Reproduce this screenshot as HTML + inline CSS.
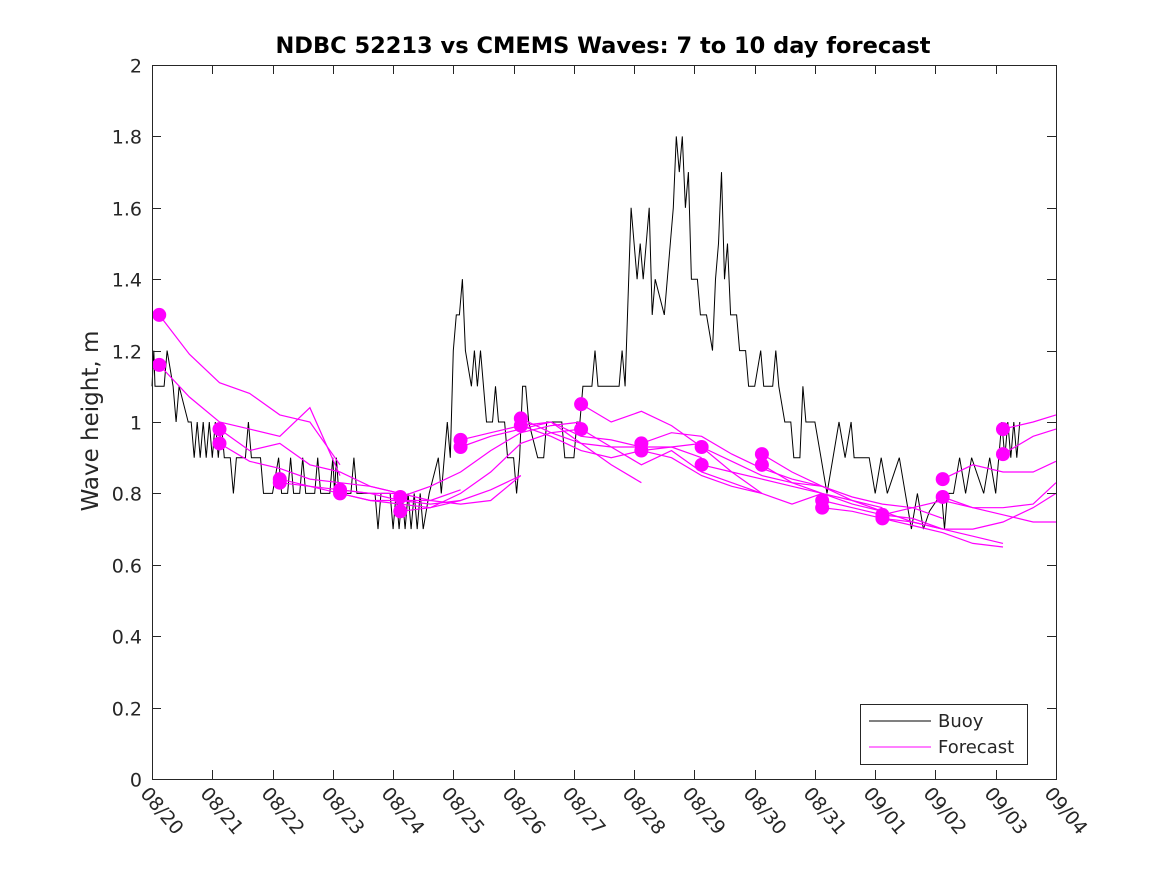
<!DOCTYPE html>
<html><head><meta charset="utf-8"><style>
body{margin:0;background:#fff}
svg text{font-family:"DejaVu Sans","Liberation Sans",sans-serif;fill:#262626}
</style></head><body>
<svg id="chart" width="1167" height="875" xmlns="http://www.w3.org/2000/svg">
<rect width="1167" height="875" fill="#fff"/>
<text x="603" y="53" text-anchor="middle" font-size="22.5" font-weight="bold" style="fill:#000">NDBC 52213 vs CMEMS Waves: 7 to 10 day forecast</text>
<text transform="translate(98,421) rotate(-90)" text-anchor="middle" font-size="23">Wave height, m</text>
<g id="marks"></g>
<g id="axes"></g>
<g>
<rect x="860.5" y="704.5" width="167" height="60" fill="#fff" stroke="#262626"/>
<line x1="869" y1="721" x2="931" y2="721" stroke="#000"/>
<text x="938" y="727" font-size="18">Buoy</text>
<line x1="869" y1="747" x2="931" y2="747" stroke="#ff00ff"/>
<text x="938" y="753" font-size="18">Forecast</text>
</g>
</svg>
<script>
const xTickLabels=["08/20","08/21","08/22","08/23","08/24","08/25","08/26","08/27","08/28","08/29","08/30","08/31","09/01","09/02","09/03","09/04"];
const yTicks=[0,0.2,0.4,0.6,0.8,1,1.2,1.4,1.6,1.8,2];
const buoyDays=[0,0.03,0.05,0.2,0.25,0.35,0.4,0.45,0.6,0.65,0.7,0.75,0.8,0.85,0.9,0.95,1.0,1.05,1.1,1.15,1.2,1.3,1.35,1.4,1.55,1.6,1.65,1.8,1.85,2.0,2.1,2.15,2.25,2.3,2.35,2.45,2.5,2.55,2.7,2.75,2.8,2.95,3.0,3.03,3.06,3.1,3.3,3.35,3.4,3.5,3.7,3.75,3.8,3.95,4.0,4.05,4.1,4.15,4.2,4.25,4.3,4.35,4.4,4.45,4.5,4.6,4.75,4.8,4.9,4.95,5.0,5.05,5.1,5.15,5.2,5.3,5.35,5.4,5.45,5.5,5.55,5.65,5.7,5.75,5.85,5.9,6.0,6.05,6.1,6.15,6.2,6.25,6.4,6.5,6.55,6.8,6.85,7.0,7.05,7.1,7.15,7.3,7.35,7.4,7.75,7.8,7.85,7.95,8.0,8.05,8.1,8.15,8.2,8.25,8.3,8.35,8.5,8.55,8.6,8.65,8.7,8.75,8.8,8.85,8.9,8.95,9.05,9.1,9.2,9.3,9.35,9.4,9.45,9.5,9.55,9.6,9.7,9.75,9.85,9.9,10.0,10.1,10.15,10.3,10.35,10.4,10.5,10.6,10.65,10.75,10.8,10.85,11.0,11.1,11.2,11.4,11.5,11.6,11.65,11.9,12.0,12.1,12.2,12.4,12.5,12.6,12.7,12.8,12.9,13.1,13.15,13.2,13.3,13.4,13.5,13.6,13.8,13.9,14.0,14.1,14.15,14.2,14.25,14.3,14.35,14.4];
const buoyVals=[1.1,1.2,1.1,1.1,1.2,1.1,1.0,1.1,1.0,1.0,0.9,1.0,0.9,1.0,0.9,1.0,0.9,1.0,0.9,1.0,0.9,0.9,0.8,0.9,0.9,1.0,0.9,0.9,0.8,0.8,0.9,0.8,0.8,0.9,0.8,0.8,0.9,0.8,0.8,0.9,0.8,0.8,0.9,0.8,0.9,0.8,0.8,0.9,0.8,0.8,0.8,0.7,0.8,0.8,0.7,0.8,0.7,0.8,0.7,0.8,0.7,0.8,0.7,0.8,0.7,0.8,0.9,0.8,1.0,0.9,1.2,1.3,1.3,1.4,1.2,1.1,1.2,1.1,1.2,1.1,1.0,1.0,1.1,1.0,1.0,0.9,0.9,0.8,0.9,1.1,1.1,1.0,0.9,0.9,1.0,1.0,0.9,0.9,1.0,1.0,1.1,1.1,1.2,1.1,1.1,1.2,1.1,1.6,1.5,1.4,1.5,1.4,1.5,1.6,1.3,1.4,1.3,1.4,1.5,1.6,1.8,1.7,1.8,1.6,1.7,1.4,1.4,1.3,1.3,1.2,1.4,1.5,1.7,1.4,1.5,1.3,1.3,1.2,1.2,1.1,1.1,1.2,1.1,1.1,1.2,1.1,1.0,1.0,0.9,0.9,1.1,1.0,1.0,0.9,0.8,1.0,0.9,1.0,0.9,0.9,0.8,0.9,0.8,0.9,0.8,0.7,0.8,0.7,0.75,0.8,0.7,0.8,0.8,0.9,0.8,0.9,0.8,0.9,0.8,1.0,0.9,1.0,0.9,1.0,0.9,1.0,0.9];
const fcStartDays=[0.12,0.12,1.12,1.12,2.12,2.12,3.12,3.12,4.12,4.12,5.12,5.12,6.12,6.12,7.12,7.12,8.12,8.12,9.12,9.12,10.12,10.12,11.12,11.12,12.12,12.12,13.12,13.12,14.12,14.12];
const fcValues=[
[1.30,1.19,1.11,1.08,1.02,1.00,0.88],[1.16,1.07,1.00,0.98,0.96,1.04,0.85],
[0.98,0.92,0.94,0.88,0.86,0.82,0.80],[0.94,0.89,0.87,0.84,0.83,0.82,0.80],
[0.84,0.82,0.81,0.80,0.78,0.77,0.78],[0.83,0.82,0.80,0.78,0.78,0.78,0.81],
[0.81,0.80,0.80,0.78,0.77,0.78,0.85],[0.80,0.78,0.77,0.76,0.78,0.81,0.85],
[0.79,0.82,0.86,0.92,0.97,0.99,1.00],[0.75,0.76,0.80,0.86,0.94,0.97,0.98],
[0.95,0.97,0.99,1.00,0.96,0.95,0.93],[0.93,0.96,0.98,1.00,0.94,0.88,0.83],
[1.01,0.97,0.94,0.93,0.93,0.93,0.94],[0.99,0.96,0.92,0.90,0.92,0.93,0.90],
[1.05,1.00,1.03,0.99,0.93,0.86,0.80],[0.98,0.93,0.88,0.92,0.86,0.83,0.80],
[0.94,0.97,0.96,0.91,0.87,0.84,0.82],[0.92,0.90,0.85,0.82,0.80,0.77,0.80],
[0.93,0.89,0.85,0.83,0.82,0.78,0.76],[0.88,0.86,0.84,0.82,0.80,0.77,0.75],
[0.91,0.86,0.82,0.79,0.77,0.76,0.73],[0.88,0.83,0.80,0.78,0.75,0.72,0.70],
[0.78,0.76,0.74,0.73,0.70,0.68,0.66],[0.76,0.75,0.73,0.71,0.69,0.66,0.65],
[0.74,0.76,0.78,0.76,0.74,0.72,0.72],[0.73,0.72,0.70,0.70,0.72,0.76,0.80],
[0.84,0.88,0.86,0.86,0.89],[0.79,0.76,0.76,0.77,0.83],
[0.98,1.00,1.02],[0.91,0.96,0.98]];
const fcDotVals=fcValues.map(v=>v[0]);
const X0=152,X1=1056,Y0=779,Y1=65;
function xs(d){return X0+(X1-X0)*d/15;}
function ys(v){return Y0-(Y0-Y1)*v/2;}
const NS="http://www.w3.org/2000/svg";
const marks=document.getElementById('marks'),axes=document.getElementById('axes');
function mk(tag,attrs,parent){const e=document.createElementNS(NS,tag);for(const k in attrs)e.setAttribute(k,attrs[k]);parent.appendChild(e);return e;}
let d='';buoyDays.forEach((t,i)=>{d+=(i?'L':'M')+xs(t).toFixed(1)+','+ys(buoyVals[i]).toFixed(1);});
const bl=mk('path',{d:d,fill:'none',stroke:'#000','stroke-width':1},marks);


fcValues.forEach((vals,i)=>{
  let p='';vals.forEach((v,j)=>{const t=Math.min(15,fcStartDays[i]+j*0.5);p+=(j?'L':'M')+xs(t).toFixed(1)+','+ys(v).toFixed(1);});
  const fl=mk('path',{d:p,fill:'none',stroke:'#ff00ff','stroke-width':1.2},marks);
  
  
});
fcDotVals.forEach((v,i)=>{
  const c=mk('circle',{cx:xs(fcStartDays[i]),cy:ys(v),r:7,fill:'#ff00ff'},marks);
  
  
});
const box=mk('rect',{x:X0+0.5,y:Y1+0.5,width:X1-X0,height:Y0-Y1,fill:'none',stroke:'#262626'},axes);


yTicks.forEach(v=>{
  const y=Math.round(ys(v))+0.5;
  mk('line',{x1:X0,y1:y,x2:X0+9,y2:y,stroke:'#262626'},axes);
  mk('line',{x1:X1-9,y1:y,x2:X1,y2:y,stroke:'#262626'},axes);
  const t=mk('text',{x:X0-10,y:y+7,'text-anchor':'end','font-size':19},axes);
  t.textContent=String(v);
  
  
});
xTickLabels.forEach((lab,i)=>{
  const x=Math.round(xs(i))+0.5;
  mk('line',{x1:x,y1:Y0,x2:x,y2:Y0-9,stroke:'#262626'},axes);
  mk('line',{x1:x,y1:Y1,x2:x,y2:Y1+9,stroke:'#262626'},axes);
  const t=mk('text',{transform:`translate(${x-13},${Y0+15}) rotate(50)`,'font-size':19},axes);
  t.textContent=lab;
  
  
});
</script>
</body></html>
